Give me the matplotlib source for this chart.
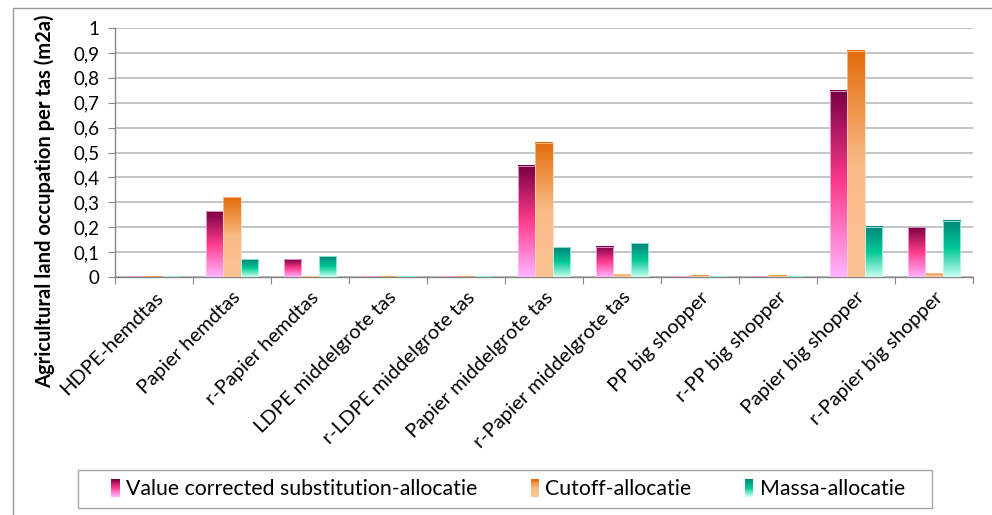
import numpy as np
import matplotlib
matplotlib.use("Agg")
from matplotlib import pyplot as plt
from matplotlib.colors import LinearSegmentedColormap
from matplotlib.legend_handler import HandlerBase
from matplotlib.patches import Rectangle
from matplotlib.ticker import FuncFormatter
from matplotlib.transforms import ScaledTranslation

categories = ["HDPE-hemdtas", "Papier hemdtas", "r-Papier hemdtas", "LDPE middelgrote tas",
              "r-LDPE middelgrote tas", "Papier middelgrote tas", "r-Papier middelgrote tas",
              "PP big shopper", "r-PP big shopper", "Papier big shopper", "r-Papier big shopper"]
series_names = ["Value corrected substitution-allocatie", "Cutoff-allocatie", "Massa-allocatie"]
value_corrected = [0.003, 0.265, 0.072, 0.003, 0.003, 0.447, 0.122, 0.004, 0.004, 0.748, 0.200]
cutoff = [0.002, 0.321, 0.003, 0.002, 0.002, 0.539, 0.012, 0.006, 0.006, 0.908, 0.015]
massa = [0.003, 0.072, 0.084, 0.003, 0.003, 0.120, 0.135, 0.003, 0.003, 0.202, 0.225]

plt.rcParams["font.family"] = ["Lato", "DejaVu Sans"]

# bottom -> middle -> top colours of each gradient
cmaps = [
    LinearSegmentedColormap.from_list("pink", [(0, "#ffb4ff"), (0.5, "#ff3c8c"), (1, "#780040")]),
    LinearSegmentedColormap.from_list("orange", [(0, "#fbc394"), (0.5, "#f9bb86"), (1, "#e36c09")]),
    LinearSegmentedColormap.from_list("teal", [(0, "#c8fff0"), (0.5, "#00c896"), (1, "#00857a")]),
]
edge_colors = ["#ffc8ff", "#fcd2b0", "#c8fff0"]

fig = plt.figure(figsize=(9.92, 5.15), dpi=100)
ax = fig.add_axes([115 / 992, 1 - 277 / 515, (973 - 115) / 992, (277 - 28) / 515])

grad = np.linspace(0, 1, 256).reshape(-1, 1)
x = np.arange(len(categories))
width = 0.22
for i, vals in enumerate([value_corrected, cutoff, massa]):
    for xi, v in zip(x, vals):
        x0 = xi + (i - 1) * width - width / 2
        ax.imshow(grad, extent=[x0, x0 + width, 0, v], origin="lower", aspect="auto",
                  cmap=cmaps[i], zorder=3, interpolation="bilinear")
        ax.add_patch(Rectangle((x0, 0), width, v, fill=False, edgecolor=edge_colors[i],
                               lw=0.5, zorder=4))

ax.set_xlim(-0.5, len(categories) - 0.5)
ax.set_ylim(0, 1)
ax.set_yticks(np.arange(0, 1.01, 0.1))
ax.yaxis.set_major_formatter(FuncFormatter(
    lambda v, p: "0" if abs(v) < 1e-9 else ("1" if abs(v - 1) < 1e-9 else f"{v:.1f}".replace(".", ","))))
ax.grid(axis="y", color="#bfbfbf", lw=1.3, zorder=0)
ax.set_axisbelow(True)

ax.set_xticks(np.arange(-0.5, len(categories), 1))
ax.set_xticklabels([])
ax.set_xticks(x, minor=True)
ax.set_xticklabels(categories, minor=True, rotation=45, ha="right", va="center",
                   rotation_mode="anchor", fontsize=14.5)
ax.tick_params(axis="x", which="minor", length=0, pad=14)
ax.tick_params(axis="x", which="major", length=5, color="#868686", direction="out")
ax.tick_params(axis="y", length=5, color="#868686", labelsize=13.5, pad=6)
shift = ScaledTranslation(6 / 100, 2 / 100, fig.dpi_scale_trans)
for lab in ax.get_xticklabels(minor=True):
    lab.set_transform(lab.get_transform() + shift)

for s in ["top", "right"]:
    ax.spines[s].set_visible(False)
for s in ["left", "bottom"]:
    ax.spines[s].set_color("#868686")
    ax.spines[s].set_linewidth(1.0)

fig.text(45 / 992, 1 - 201 / 515, "Agricultural land occupation per tas (m2a)", rotation=90,
         ha="center", va="center", fontsize=14.5, fontweight="bold")

# outer chart frame
fig.patches.append(Rectangle((13 / 992, -0.1), 1.2, 1.1 - 8 / 515, transform=fig.transFigure,
                             fill=False, edgecolor="#9a9a9a", lw=1.0))
# legend frame
fig.patches.append(Rectangle((78 / 992, 1 - 508 / 515), (932 - 78) / 992, 38 / 515,
                             transform=fig.transFigure, fill=False, edgecolor="#a6a6a6", lw=1.0))


class GradientHandler(HandlerBase):
    def create_artists(self, legend, orig_handle, xdescent, ydescent, width, height, fontsize, trans):
        cmap = orig_handle.cmap
        n = 20
        arts = []
        for k in range(n):
            r = Rectangle((-xdescent, -ydescent + height * k / n), width, height / n + 0.2,
                          facecolor=cmap(k / (n - 1)), edgecolor="none", transform=trans)
            arts.append(r)
        return arts


class GradHandle:
    def __init__(self, cmap):
        self.cmap = cmap


handles = [GradHandle(c) for c in cmaps]
leg = fig.legend(handles, series_names, handler_map={GradHandle: GradientHandler()},
                 loc="center", bbox_to_anchor=(508 / 992, 1 - 489 / 515), ncol=3, fontsize=15.3,
                 frameon=False, handlelength=0.4, handleheight=0.9, handletextpad=0.3,
                 columnspacing=2.5, borderpad=0.35, borderaxespad=0)

fig.savefig("out.png", dpi=100)
